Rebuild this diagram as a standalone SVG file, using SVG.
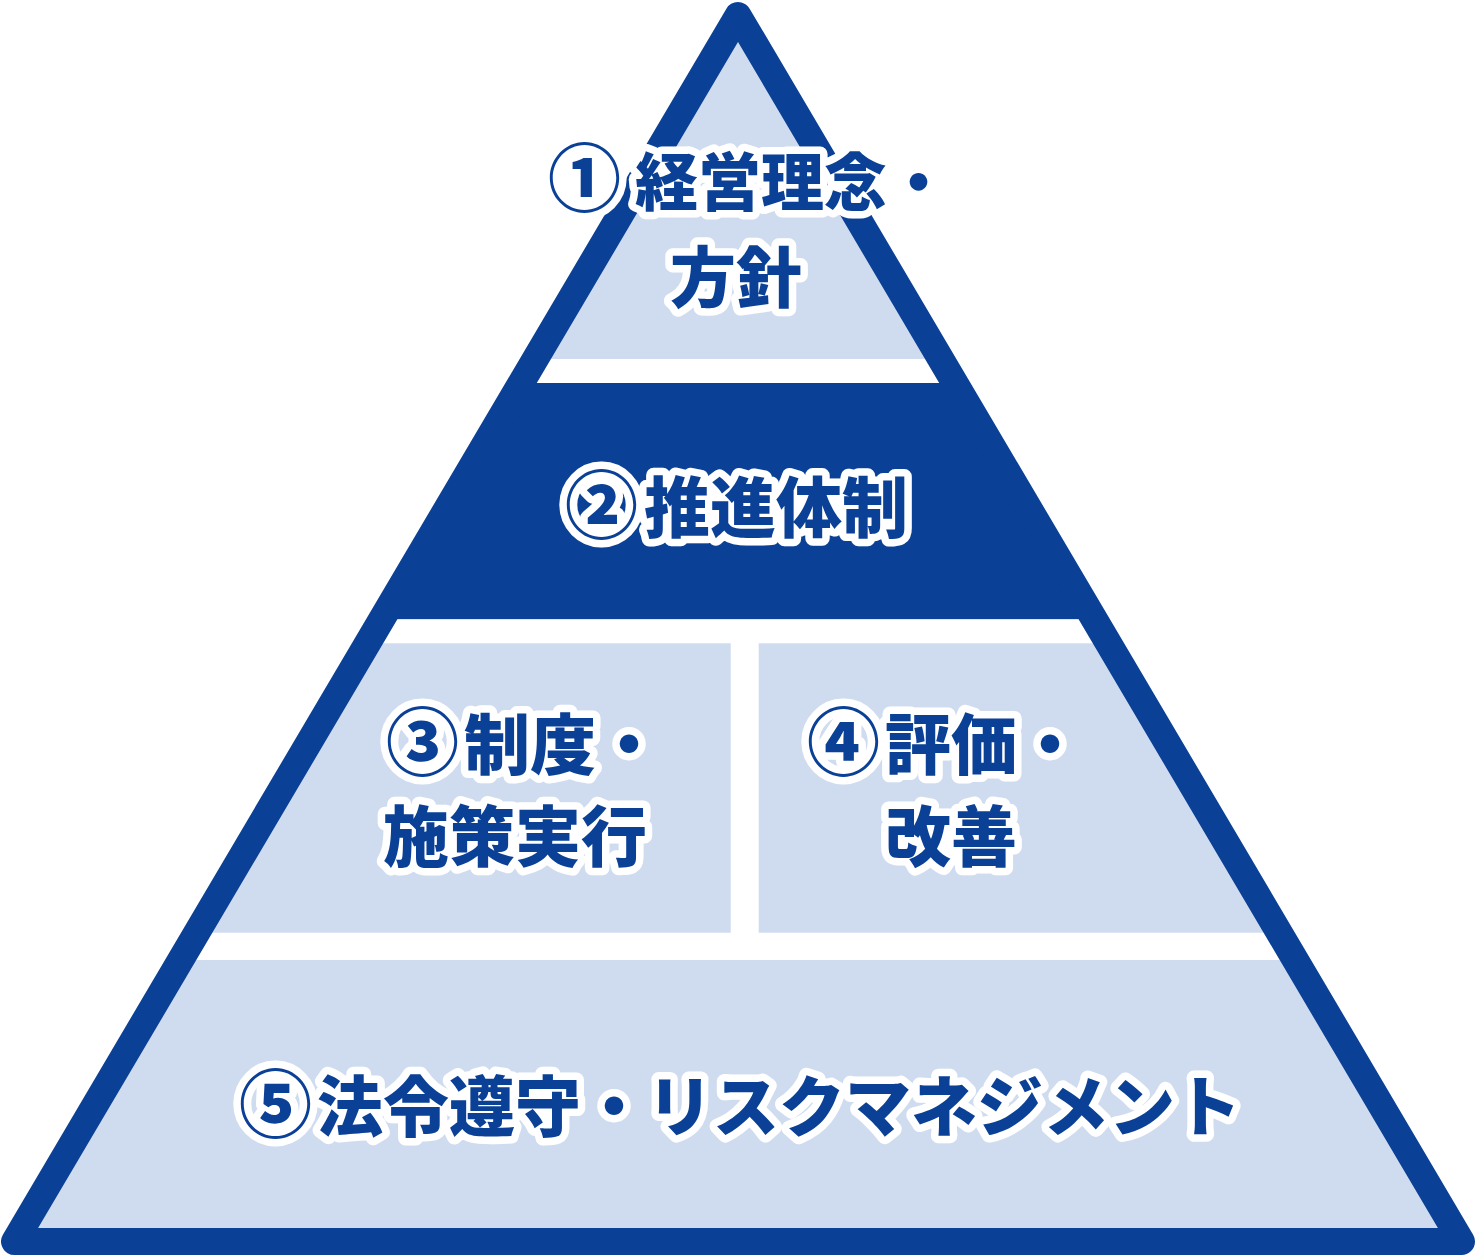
<svg xmlns="http://www.w3.org/2000/svg" width="1476" height="1256" viewBox="0 0 1476 1256">
<style>
.lbl{font-family:"Noto Sans CJK JP","Noto Sans CJK SC",sans-serif;font-weight:900;font-size:66px;fill:#0a4096;stroke:#ffffff;stroke-width:15px;stroke-linejoin:round;paint-order:stroke fill}
.num{font-size:73px}
</style>
<defs>
<clipPath id="tri"><polygon points="738,15.5 14.5,1241.5 1461.5,1241.5"/></clipPath>
</defs>
<g id="pyramid">
<g clip-path="url(#tri)">
<rect x="0" y="0" width="1476" height="1256" fill="#cfdcef"/>
<rect x="0" y="359" width="1476" height="24" fill="#ffffff"/>
<rect x="0" y="383" width="1476" height="236.3" fill="#0a4096"/>
<rect x="0" y="619.3" width="1476" height="24" fill="#ffffff"/>
<rect x="0" y="932.7" width="1476" height="27.3" fill="#ffffff"/>
<rect x="730.7" y="643" width="28" height="290" fill="#ffffff"/>
</g>
<polygon points="738,15.5 14.5,1241.5 1461.5,1241.5" fill="none" stroke="#0a4096" stroke-width="27" stroke-linejoin="round"/>
</g>
<g id="node1">
<text class="lbl" x="548" y="205"><tspan class="num">①</tspan><tspan x="635" style="font-size:63px">経営理念・</tspan></text>
<text class="lbl" x="736" y="302" text-anchor="middle">方針</text>
</g>
<g id="node2">
<text class="lbl" x="565" y="532"><tspan class="num">②</tspan><tspan x="644">推進体制</tspan></text>
</g>
<g id="node3">
<text class="lbl" x="386" y="769"><tspan class="num">③</tspan><tspan x="464">制度・</tspan></text>
<text class="lbl" x="383" y="861">施策実行</text>
</g>
<g id="node4">
<text class="lbl" x="807" y="769"><tspan class="num">④</tspan><tspan x="885">評価・</tspan></text>
<text class="lbl" x="885" y="861">改善</text>
</g>
<g id="node5">
<text class="lbl" x="239" y="1131"><tspan class="num">⑤</tspan><tspan x="317">法令遵守・リスクマネジメント</tspan></text>
</g>
</svg>
